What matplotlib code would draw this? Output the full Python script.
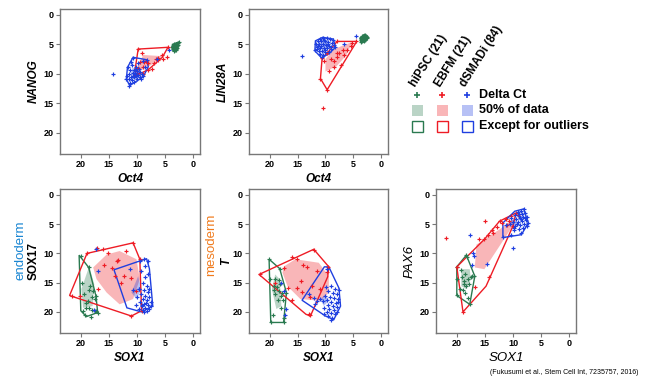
import matplotlib
matplotlib.use('Agg')
import matplotlib.pyplot as plt
from matplotlib.patches import Polygon, Rectangle

plt.rcParams['font.family'] = ['Liberation Sans', 'DejaVu Sans']

GREEN = '#2a7a50'
RED = '#ee1c25'
BLUE = '#1f3fe0'

groups = ['hiPSC (21)', 'EBFM (21)', 'dSMADi (84)']
legend_rows = ['Delta Ct', '50% of data', 'Except for outliers']
ticks = [0, 5, 10, 15, 20]

# ---------------- Panel: NANOG vs Oct4 ----------------
nanog_hipsc = [(3.5,5.0),(3.2,5.2),(3.0,5.4),(2.8,5.1),(3.4,5.6),(3.6,5.8),(3.1,5.9),(2.9,5.6),(3.3,6.0),(3.6,5.3),
               (2.7,4.7),(3.0,4.9),(3.4,5.4),(3.2,5.7),(3.5,6.1),(2.9,5.3),(3.1,5.0),(3.7,5.5),(3.3,5.1),(3.0,5.8),(2.6,4.6)]
nanog_hipsc_hull = [(3.7,5.0),(2.6,4.6),(2.8,5.9),(3.6,6.1),(3.8,5.6)]
nanog_hipsc_core = [(3.4,5.2),(3.0,5.3),(3.1,5.7),(3.4,5.8)]
nanog_ebfm = [(9.2,6.5),(5.6,6.8),(5.3,7.5),(6.2,7.7),(7.4,9.1),(8.0,8.2),(9.5,8.0),(8.9,8.8),(10.4,10.2),(4.75,7.2),
              (8.4,7.9),(9.8,5.8),(4.5,5.5),(6.2,7.3),(8.8,8.0),(9.9,9.0),(7.0,8.2),(9.0,10.0),(10.0,9.8),(6.6,7.5),(8.0,9.3)]
nanog_ebfm_hull = [(9.8,5.8),(4.5,5.5),(5.5,7.2),(8.0,9.3),(10.2,10.3),(10.3,9.0)]
nanog_ebfm_core = [(8.9,6.8),(5.5,7.0),(7.5,8.5),(9.5,9.5),(9.8,8.5)]
nanog_dsmadi = [(10.7,7.3),(9.0,7.8),(8.3,7.6),(11.6,8.9),(10.9,8.5),(10.2,8.9),(9.6,9.1),(8.6,8.9),(11.2,9.4),(10.6,9.4),
                (10.0,9.6),(9.4,9.7),(11.4,10.0),(10.8,9.9),(10.3,10.1),(9.8,10.2),(9.1,10.0),(11.1,10.5),(10.5,10.6),(10.0,10.8),
                (11.5,10.9),(10.9,11.1),(11.3,11.5),(11.4,12.0),(10.6,11.4),(9.5,10.5),(10.2,9.2),(11.8,10.3),(9.3,10.8),(10.4,9.9),
                (8.9,10.4),(11.0,8.0),(9.9,8.2),(14.2,10.0),(4.4,6.0),(6.5,7.4),(11.9,10.9),(10.7,10.3),(10.1,10.4)]
nanog_dsmadi_hull = [(10.7,7.2),(8.3,7.6),(8.0,8.8),(8.9,10.5),(11.3,12.0),(11.9,10.9),(11.7,8.9)]
nanog_dsmadi_core = [(10.8,9.0),(9.6,9.3),(9.2,10.3),(10.3,10.9),(11.2,10.3)]

# ---------------- Panel: LIN28A vs Oct4 ----------------
lin28a_hipsc = [(3.0,3.4),(2.7,3.5),(2.5,3.7),(3.3,3.6),(3.0,3.8),(2.8,3.9),(3.5,3.9),(3.2,4.0),(2.9,4.2),(3.6,4.2),
                (3.4,4.4),(3.1,4.5),(3.6,4.6),(2.6,4.0),(3.3,3.9),(2.9,3.6),(3.5,4.3),(3.2,4.3),(3.7,4.0),(3.0,4.1),(3.4,3.5)]
lin28a_hipsc_hull = [(3.0,3.3),(2.4,3.7),(3.1,4.6),(3.7,4.7),(3.8,3.9)]
lin28a_hipsc_core = [(3.2,3.7),(2.9,3.9),(3.3,4.3),(3.5,4.0)]
lin28a_ebfm = [(10.3,7.9),(9.4,9.6),(8.5,7.9),(7.9,6.5),(6.7,6.8),(6.1,5.9),(5.5,5.3),(7.3,8.5),(8.5,8.8),(9.7,12.7),
               (10.9,10.8),(10.5,15.8),(5.2,4.8),(4.5,4.5),(7.9,4.5),(9.7,6.5),(10.6,7.3),(8.0,7.2),(9.0,7.5),(6.8,6.0),(7.5,6.5)]
lin28a_ebfm_hull = [(9.7,6.5),(7.9,4.5),(4.4,4.5),(9.7,12.7),(10.9,10.8),(10.6,7.3)]
lin28a_ebfm_core = [(5.2,4.6),(8.5,5.8),(10.0,7.5),(10.0,9.6),(8.0,8.7),(6.3,6.9)]
lin28a_dsmadi = [(10.5,3.9),(9.8,4.0),(9.2,4.1),(8.6,4.3),(11.3,4.4),(10.8,4.5),(10.1,4.5),(9.5,4.6),(8.9,4.7),(11.7,4.9),
                 (11.1,5.0),(10.5,5.0),(9.9,5.1),(9.3,5.2),(8.5,5.1),(11.5,5.5),(10.9,5.6),(10.3,5.6),(9.7,5.7),(9.1,5.8),
                 (11.8,6.0),(11.2,6.1),(10.6,6.2),(10.0,6.3),(9.4,6.3),(11.0,6.7),(10.4,6.8),(10.7,7.2),(11.4,5.2),(10.2,4.2),
                 (9.0,5.4),(8.3,5.5),(10.0,5.9),(10.8,5.3),(9.6,4.9),(14.2,7.0),(4.6,3.5),(6.6,5.0),(11.6,5.8),(10.9,4.1)]
lin28a_dsmadi_hull = [(11.8,4.4),(10.5,3.8),(8.6,4.1),(8.2,5.5),(9.4,6.6),(10.7,7.3),(11.9,6.1)]
lin28a_dsmadi_core = [(10.8,4.5),(9.4,4.7),(9.3,5.7),(10.5,6.0),(11.2,5.3)]

# ---------------- Panel: SOX17 vs SOX1 ----------------
sox17_hipsc = [(20.0,10.5),(19.5,17.0),(18.5,16.3),(18.0,17.5),(17.5,17.8),(19.0,19.3),(18.5,19.4),(18.0,19.6),(17.5,19.8),(19.2,20.5),
               (18.8,18.2),(17.8,16.5),(18.3,15.5),(19.0,18.5),(17.3,19.8),(18.1,20.8),(19.6,19.8),(18.6,12.4),(17.3,17.3),(17.0,20.1),(19.8,15.0)]
sox17_hipsc_hull = [(20.3,10.3),(18.6,12.4),(17.3,17.3),(17.0,20.1),(19.0,20.8),(20.0,19.8)]
sox17_hipsc_core = [(18.5,12.2),(17.6,15.3),(17.9,19.0),(19.6,19.3),(19.9,16.1)]
sox17_ebfm = [(17.2,9.0),(16.0,9.2),(15.1,10.0),(13.6,11.3),(13.3,11.1),(12.0,9.6),(12.3,13.9),(13.9,13.9),(16.9,16.1),(20.2,17.3),
              (11.0,14.2),(10.1,16.4),(9.2,19.8),(21.6,17.2),(10.7,8.2),(18.9,10.0),(11.0,20.7),(14.5,12.5),(12.8,15.0),(15.8,12.0),(9.5,11.0)]
sox17_ebfm_hull = [(18.9,10.0),(10.7,8.2),(9.5,11.0),(9.2,19.8),(11.0,20.7),(22.0,17.2)]
sox17_ebfm_core = [(17.8,12.4),(15.4,10.2),(13.1,9.6),(10.1,11.0),(9.5,14.4),(10.7,17.8),(13.1,18.7),(15.4,16.7),(17.2,14.4)]
sox17_dsmadi = [(8.5,14.0),(9.3,13.0),(8.0,13.5),(9.0,15.0),(8.2,15.5),(9.6,16.0),(8.8,16.3),(8.0,16.6),(9.3,17.0),(8.5,17.2),
                (7.8,17.5),(9.0,17.8),(8.3,18.0),(7.6,18.3),(9.5,18.3),(8.8,18.6),(8.1,18.8),(7.5,19.0),(9.2,19.0),(8.5,19.3),
                (7.8,19.5),(9.0,19.7),(8.3,19.9),(8.7,20.0),(9.7,19.5),(10.2,18.8),(10.7,16.3),(9.6,16.1),(11.2,12.7),(9.5,11.3),
                (8.8,11.0),(8.0,11.3),(17.3,9.2),(17.0,13.0),(17.6,19.7),(10.0,17.5),(8.6,12.2),(7.9,16.0),(8.4,18.5),(9.1,18.9)]
sox17_dsmadi_hull = [(14.1,12.8),(8.3,10.9),(7.8,12.6),(7.2,19.0),(9.2,20.0),(11.8,19.3)]
sox17_dsmadi_core = [(9.8,13.9),(11.0,16.7),(10.1,17.8),(9.2,16.1)]

# ---------------- Panel: T vs SOX1 ----------------
t_hipsc = [(19.9,14.4),(19.0,14.3),(18.3,14.6),(18.6,15.7),(19.3,16.2),(18.4,16.5),(17.8,16.8),(19.0,17.0),(18.0,17.3),(18.5,18.0),
           (18.0,19.3),(19.4,20.5),(17.6,17.9),(19.2,15.5),(18.1,15.3),(17.4,21.0),(20.1,11.0),(18.2,12.6),(17.0,16.7),(17.5,21.8),(19.8,21.8)]
t_hipsc_hull = [(20.1,11.0),(18.2,12.6),(17.0,16.7),(17.5,21.8),(19.8,21.8)]
t_hipsc_core = [(19.0,13.6),(18.2,14.4),(17.9,19.0),(18.8,19.5),(19.6,16.1)]
t_ebfm = [(16.0,10.7),(15.1,10.9),(13.3,12.3),(14.3,14.7),(15.1,15.9),(14.2,16.6),(16.7,15.9),(12.4,15.5),(10.9,16.0),(12.0,9.4),
          (9.5,12.3),(12.7,20.6),(21.7,13.6),(9.7,13.2),(13.0,20.3),(11.5,13.0),(17.5,12.5),(14.0,12.0),(12.8,17.5),(19.0,15.0),(16.0,18.0)]
t_ebfm_hull = [(21.9,13.6),(12.1,9.3),(9.4,12.3),(9.6,14.0),(12.7,20.7),(13.5,20.4)]
t_ebfm_core = [(17.4,12.2),(15.4,11.0),(11.2,11.6),(9.4,13.9),(9.4,16.7),(10.9,18.1),(14.5,17.8),(16.8,15.6),(17.7,13.3)]
t_dsmadi = [(9.0,15.5),(8.3,16.0),(9.5,16.5),(8.7,16.8),(8.0,17.0),(10.0,17.2),(9.2,17.5),(8.5,17.7),(7.7,17.8),(9.8,18.0),
            (9.0,18.3),(8.2,18.5),(10.5,18.2),(9.5,18.8),(8.7,19.0),(7.9,19.1),(10.2,19.3),(9.3,19.5),(8.5,19.7),(9.8,20.0),
            (9.0,20.2),(8.3,20.3),(9.5,20.7),(8.8,21.0),(9.1,21.3),(7.6,16.2),(10.9,17.8),(11.5,18.2),(12.1,17.7),(11.8,18.7),
            (17.9,15.0),(17.4,16.4),(17.1,19.5),(17.2,20.6),(9.7,12.6),(13.0,17.0),(8.0,20.0),(10.3,20.3),(7.8,18.3),(9.9,15.8)]
t_dsmadi_hull = [(10.2,12.3),(9.4,12.3),(7.6,15.9),(7.3,19.0),(8.5,21.3),(10.0,20.7),(14.2,18.0)]
t_dsmadi_core = [(10.0,17.0),(10.9,17.8),(10.3,19.0),(9.4,18.1)]

# ---------------- Panel: PAX6 vs SOX1 ----------------
pax6_hipsc = [(19.1,14.0),(18.5,13.5),(18.0,14.3),(18.8,15.2),(18.3,15.6),(17.8,15.3),(19.5,16.0),(18.6,16.8),(18.0,17.6),(17.5,14.0),
              (17.3,13.8),(19.9,14.3),(18.2,10.6),(20.0,17.1),(17.7,18.7),(18.9,16.3),(17.0,13.9),(20.0,12.3),(18.3,10.3),(19.3,12.9),(18.7,14.7)]
pax6_hipsc_hull = [(20.0,12.3),(18.3,10.3),(16.8,13.9),(17.7,18.7),(20.0,17.2)]
pax6_hipsc_core = [(19.2,12.7),(17.7,12.7),(17.5,14.4),(18.3,16.1),(19.2,15.6)]
pax6_ebfm = [(21.9,7.3),(15.0,4.5),(16.0,7.6),(13.5,6.5),(12.4,4.5),(11.3,4.2),(10.4,3.6),(9.5,3.1),(11.0,5.1),(14.3,14.1),
             (16.8,15.8),(18.9,20.0),(20.0,12.3),(10.0,5.3),(9.1,3.4),(11.9,4.8),(15.1,7.6),(13.8,6.0),(12.8,5.5),(10.7,4.4),(14.5,6.8)]
pax6_ebfm_hull = [(20.0,12.3),(15.1,7.6),(12.4,4.5),(9.5,3.1),(10.0,5.3),(14.8,15.6),(18.9,20.0)]
pax6_ebfm_core = [(16.5,8.5),(12.4,5.9),(10.0,4.2),(9.7,4.8),(15.1,12.7),(16.8,12.4)]
pax6_dsmadi = [(8.1,2.4),(8.6,2.8),(9.2,3.0),(7.8,3.1),(8.4,3.3),(9.7,3.4),(9.0,3.6),(7.5,3.7),(8.2,3.8),(10.3,3.9),
               (8.8,4.0),(9.5,4.2),(7.7,4.3),(8.4,4.5),(10.0,4.6),(9.1,4.7),(7.3,4.8),(8.0,5.0),(8.7,5.1),(9.6,5.3),
               (10.6,5.0),(11.3,5.2),(8.3,5.6),(9.0,5.8),(9.9,6.0),(8.6,6.5),(10.4,6.8),(11.8,7.2),(10.0,9.0),(17.6,6.8),
               (17.1,9.9),(16.9,10.5),(17.3,11.9),(14.6,11.8),(8.9,3.2),(7.9,4.0),(9.3,4.9),(8.5,4.2),(7.6,5.4),(9.8,5.7)]
pax6_dsmadi_hull = [(11.8,4.8),(9.7,2.8),(8.1,2.4),(7.3,4.8),(8.5,6.8),(11.8,7.3)]
pax6_dsmadi_core = [(10.6,4.5),(9.5,3.9),(9.2,5.3),(10.0,5.9)]

W, H = 656, 378
fig = plt.figure(figsize=(W / 100, H / 100), dpi=100)


def px_rect(left, top, right, bottom):
    return [left / W, 1 - bottom / H, (right - left) / W, (bottom - top) / H]


def draw_panel(rect, data, xlabel, ylabel, xstyle, ystyle, ypad=3):
    ax = fig.add_axes(rect)
    colors = [GREEN, RED, BLUE]
    for (pts, hull, core), c in zip(data, colors):
        ax.add_patch(Polygon(core, closed=True, facecolor=c, alpha=0.32, edgecolor='none', zorder=1))
    for (pts, hull, core), c in zip(data, colors):
        ax.add_patch(Polygon(hull, closed=True, facecolor='none', edgecolor=c, lw=1.0, zorder=2))
    for (pts, hull, core), c in zip(data, colors):
        xs = [p[0] for p in pts]
        ys = [p[1] for p in pts]
        ax.plot(xs, ys, linestyle='none', marker='+', ms=3.4, mew=0.85, color=c, zorder=3)
    ax.set_xlim(23.7, -1.2)
    ax.set_ylim(23.6, -1.0)
    ax.set_xticks(ticks)
    ax.set_yticks(ticks)
    ax.tick_params(length=3, width=0.8, color='#777777', labelsize=6.5, pad=1.5)
    for lab in ax.get_xticklabels() + ax.get_yticklabels():
        lab.set_fontweight('bold')
    for s in ax.spines.values():
        s.set_color('#777777')
        s.set_linewidth(1.0)
    ax.set_xlabel(xlabel, fontsize=xstyle[0], fontweight=xstyle[1], fontstyle=xstyle[2], labelpad=3)
    ax.set_ylabel(ylabel, fontsize=ystyle[0], fontweight=ystyle[1], fontstyle=ystyle[2], labelpad=ypad)
    return ax


bi = (8.5, 'bold', 'italic')
draw_panel(px_rect(60, 9, 200, 154),
           [(nanog_hipsc, nanog_hipsc_hull, nanog_hipsc_core),
            (nanog_ebfm, nanog_ebfm_hull, nanog_ebfm_core),
            (nanog_dsmadi, nanog_dsmadi_hull, nanog_dsmadi_core)],
           'Oct4', 'NANOG', bi, bi)
draw_panel(px_rect(249, 9, 388, 154),
           [(lin28a_hipsc, lin28a_hipsc_hull, lin28a_hipsc_core),
            (lin28a_ebfm, lin28a_ebfm_hull, lin28a_ebfm_core),
            (lin28a_dsmadi, lin28a_dsmadi_hull, lin28a_dsmadi_core)],
           'Oct4', 'LIN28A', bi, bi)
draw_panel(px_rect(60, 189, 200, 333),
           [(sox17_hipsc, sox17_hipsc_hull, sox17_hipsc_core),
            (sox17_ebfm, sox17_ebfm_hull, sox17_ebfm_core),
            (sox17_dsmadi, sox17_dsmadi_hull, sox17_dsmadi_core)],
           'SOX1', 'SOX17', bi, (8.5, 'bold', 'normal'))
draw_panel(px_rect(249, 189, 388, 333),
           [(t_hipsc, t_hipsc_hull, t_hipsc_core),
            (t_ebfm, t_ebfm_hull, t_ebfm_core),
            (t_dsmadi, t_dsmadi_hull, t_dsmadi_core)],
           'SOX1', 'T', bi, bi, ypad=0.5)
draw_panel(px_rect(436, 189, 576, 333),
           [(pax6_hipsc, pax6_hipsc_hull, pax6_hipsc_core),
            (pax6_ebfm, pax6_ebfm_hull, pax6_ebfm_core),
            (pax6_dsmadi, pax6_dsmadi_hull, pax6_dsmadi_core)],
           'SOX1', 'PAX6', (9.5, 'normal', 'italic'), (9.5, 'normal', 'italic'))

# germ-layer annotations
fig.text(20 / W, 1 - 250 / H, 'endoderm', rotation=90, color='#1a86d2', fontsize=9.5,
         ha='center', va='center')
fig.text(211 / W, 1 - 245 / H, 'mesoderm', rotation=90, color='#f07a1c', fontsize=9.5,
         ha='center', va='center')

# overlay in pixel coordinates for the legend
ov = fig.add_axes([0, 0, 1, 1], facecolor='none')
ov.set_xlim(0, W)
ov.set_ylim(H, 0)
ov.axis('off')
colors = [GREEN, RED, BLUE]
col_x = [417, 442, 467]
for g, c, x in zip(groups, colors, col_x):
    ov.text(x - 2, 87, g, rotation=58, rotation_mode='anchor', ha='left', va='baseline',
            fontsize=8.5, fontweight='bold')
    ov.plot([x], [95], marker='+', ms=5, mew=1.2, color=c)
    ov.add_patch(Rectangle((x - 5.5, 104.5), 11, 11, facecolor=c, alpha=0.32, edgecolor='none'))
    ov.add_patch(Rectangle((x - 5.5, 120.5), 11, 11, facecolor='none', edgecolor=c, lw=1.0))
for t, y in zip(legend_rows, [95, 110, 126]):
    ov.text(479, y, t, ha='left', va='center', fontsize=9, fontweight='bold')

ov.text(638, 373, '(Fukusumi et al., Stem Cell Int, 7235757, 2016)', ha='right', va='center', fontsize=5)

fig.savefig('out.png', dpi=100)
